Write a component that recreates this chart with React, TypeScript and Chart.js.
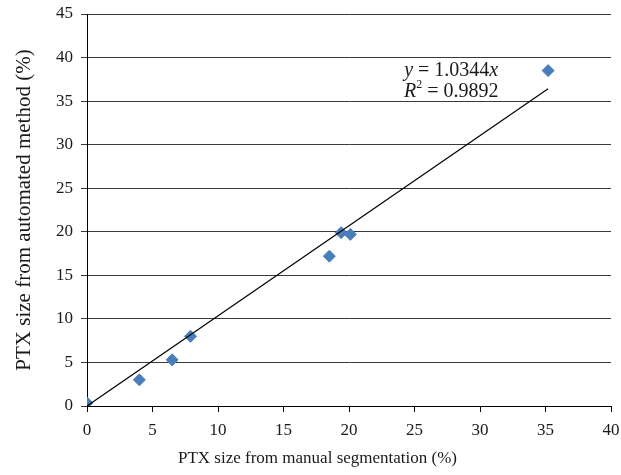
import { useEffect, useRef } from 'react';
import { Chart, registerables } from 'chart.js';

Chart.register(...registerables);

// ---- data ----
const manualX = [0, 4.0, 6.5, 7.9, 18.5, 19.4, 20.1, 35.2];
const automatedY = [0.35, 3.0, 5.3, 8.0, 17.2, 19.9, 19.7, 38.5];
const slope = 1.0344;
const rSquared = 0.9892;
const xTickValues = [0, 5, 10, 15, 20, 25, 30, 35, 40];
const yTickValues = [0, 5, 10, 15, 20, 25, 30, 35, 40, 45];
const xTitle = 'PTX size from manual segmentation (%)';
const yTitle = 'PTX size from automated method (%)';

const FONT = '"Liberation Serif", "Times New Roman", serif';
const TEXT = '#1a1a1a';

type Seg = { t: string; italic?: boolean; sup?: boolean };

function drawSegs(ctx: CanvasRenderingContext2D, segs: Seg[], cx: number, cy: number) {
  const fontFor = (s: Seg) =>
    `${s.italic ? 'italic ' : ''}${s.sup ? 12 : 20}px ${FONT}`;
  let total = 0;
  for (const s of segs) {
    ctx.font = fontFor(s);
    total += ctx.measureText(s.t).width;
  }
  let x = cx - total / 2;
  ctx.textAlign = 'left';
  ctx.textBaseline = 'middle';
  for (const s of segs) {
    ctx.font = fontFor(s);
    ctx.fillText(s.t, x, s.sup ? cy - 7 : cy);
    x += ctx.measureText(s.t).width;
  }
}

const annotPlugin = {
  id: 'annot',
  afterDraw(chart: any) {
    const { ctx, scales } = chart;
    const xs = scales.x;
    const ys = scales.y;
    ctx.save();
    ctx.fillStyle = TEXT;
    // x-axis title
    ctx.font = `17px ${FONT}`;
    ctx.textAlign = 'center';
    ctx.textBaseline = 'middle';
    ctx.fillText(xTitle, chart.width / 2 + 7, 459);
    // trendline equation
    const cx = xs.getPixelForValue(27.8);
    drawSegs(
      ctx,
      [{ t: 'y', italic: true }, { t: ' = ' + slope.toFixed(4) }, { t: 'x', italic: true }],
      cx,
      ys.getPixelForValue(38.5)
    );
    drawSegs(
      ctx,
      [{ t: 'R', italic: true }, { t: '2', sup: true }, { t: ' = ' + rSquared.toFixed(4) }],
      cx,
      ys.getPixelForValue(36.1)
    );
    ctx.restore();
  },
};

export default function App() {
  const ref = useRef<HTMLCanvasElement | null>(null);

  useEffect(() => {
    if (!ref.current) return;
    const maxX = Math.max(...manualX);
    const chart = new Chart(ref.current, {
      type: 'scatter',
      data: {
        datasets: [
          {
            label: 'PTX',
            data: manualX.map((v, i) => ({ x: v, y: automatedY[i] })),
            pointStyle: 'rectRot',
            pointRadius: 6,
            pointBorderWidth: 1,
            backgroundColor: '#4a7ebb',
            borderColor: '#4a7ebb',
            order: 1,
          },
          {
            type: 'line',
            label: 'Trend',
            data: [
              { x: 0, y: 0 },
              { x: maxX, y: slope * maxX },
            ],
            borderColor: '#000',
            borderWidth: 1.2,
            pointRadius: 0,
            fill: false,
            order: 0,
          } as any,
        ],
      },
      options: {
        animation: false,
        responsive: false,
        maintainAspectRatio: false,
        layout: { padding: { top: 14, right: 10, left: 0, bottom: 0 } },
        plugins: {
          legend: { display: false },
          tooltip: { enabled: false },
        },
        scales: {
          x: {
            type: 'linear',
            min: 0,
            max: 40,
            afterBuildTicks: (s: any) => {
              s.ticks = xTickValues.map((v) => ({ value: v }));
            },
            afterFit: (s: any) => {
              s.height = 69;
              s.paddingLeft = 0;
              s.paddingRight = 0;
            },
            ticks: {
              font: { family: FONT, size: 17 },
              color: TEXT,
              padding: 8,
              maxRotation: 0,
            },
            grid: {
              drawOnChartArea: false,
              drawTicks: true,
              tickLength: 6,
              color: '#000',
            },
            border: { display: true, color: '#000', width: 1 },
            title: { display: false },
          },
          y: {
            type: 'linear',
            min: 0,
            max: 45,
            afterBuildTicks: (s: any) => {
              s.ticks = yTickValues.map((v) => ({ value: v }));
            },
            afterFit: (s: any) => {
              s.width = 87;
              s.paddingTop = 0;
              s.paddingBottom = 0;
            },
            ticks: {
              font: { family: FONT, size: 17 },
              color: TEXT,
              padding: 8,
            },
            grid: {
              drawOnChartArea: true,
              drawTicks: true,
              tickLength: 6,
              color: '#3a3a3a',
              lineWidth: 1,
            },
            border: { display: true, color: '#000', width: 1 },
            title: {
              display: true,
              text: yTitle,
              font: { family: FONT, size: 21 },
              color: TEXT,
              padding: { top: 12, bottom: 0 },
            },
          },
        },
      },
      plugins: [annotPlugin],
    });
    return () => chart.destroy();
  }, []);

  return (
    <div style={{ position: 'absolute', left: 0, top: 0, width: 621, height: 475, background: '#fff' }}>
      <canvas ref={ref} width={621} height={475} style={{ width: 621, height: 475, display: 'block' }} />
    </div>
  );
}
